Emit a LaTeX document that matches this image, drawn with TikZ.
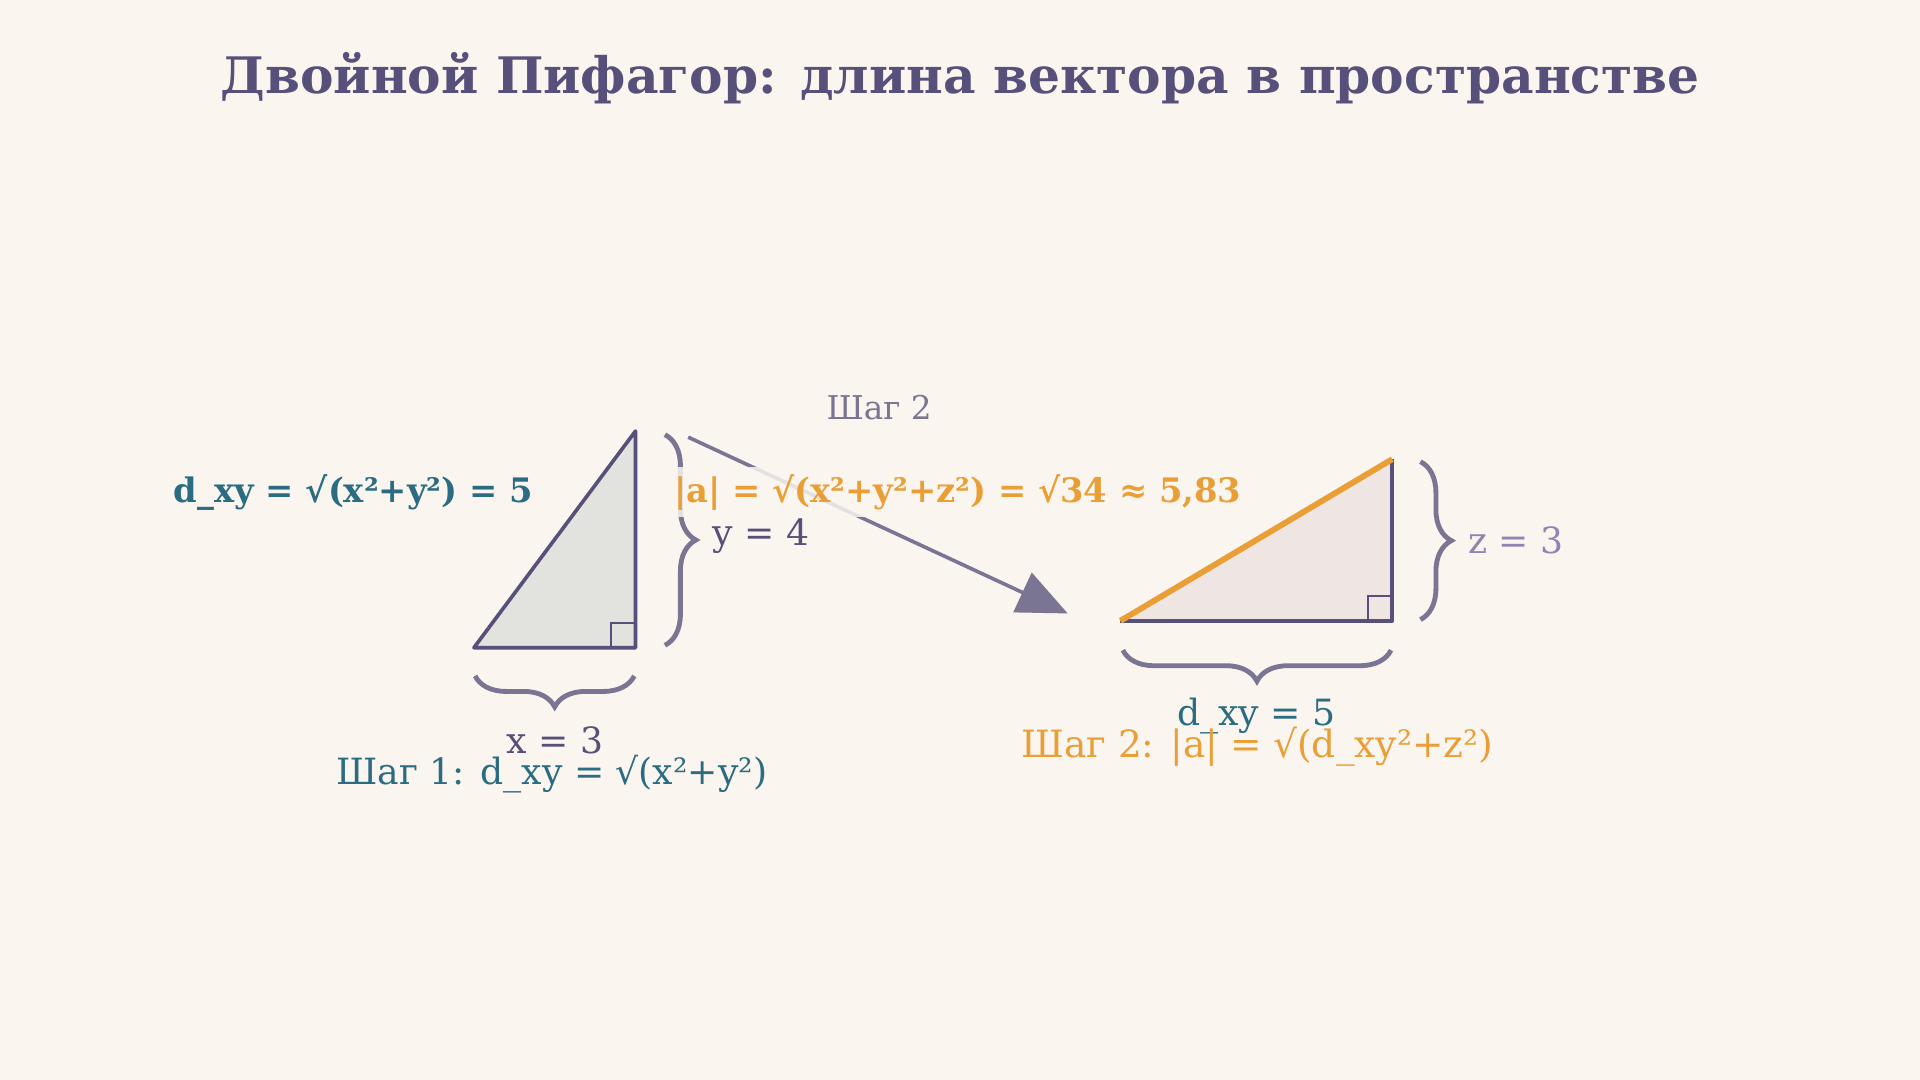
\documentclass[tikz,border=0pt]{standalone}
\usepackage{fontspec}
\setmainfont{DejaVu Serif}
\usetikzlibrary{arrows.meta,decorations.pathreplacing,positioning}
\definecolor{bgcol}{HTML}{FAF5EF}
\definecolor{ink}{HTML}{56507A}
\definecolor{tealc}{HTML}{2B6C82}
\definecolor{amber}{HTML}{E99F36}
\definecolor{mauve}{HTML}{7A7592}
\definecolor{lilac}{HTML}{9283B5}
\definecolor{triA}{HTML}{E2E3DF}
\definecolor{triB}{HTML}{EFE6E3}
\tikzstyle{bracestyle}=[draw=mauve,line width=2.8pt,decorate,decoration={brace,amplitude=18pt}]

\begin{document}
\begin{tikzpicture}[x=0.025cm,y=-0.025cm]
	\tikzstyle{every node}=[inner sep=0pt,outer sep=0pt]
	\tikzstyle{tri}=[draw=ink,line width=2.1pt,line join=round]
	\tikzstyle{corner}=[draw=ink,line width=1.2pt]
	\tikzstyle{label}=[font=\fontsize{21}{25}\selectfont]
	\tikzstyle{boldlabel}=[font=\bfseries\fontsize{19.6}{24}\selectfont]
	\tikzstyle{arrowline}=[draw=mauve,line width=2.1pt,-{Triangle[length=29pt,width=25pt]}]

	\fill[bgcol] (0,0) rectangle (1568,882);
	\useasboundingbox (0,0) rectangle (1568,882);

	\node[font=\bfseries\fontsize{29.2}{34}\selectfont,text=ink] (title) at (784,64) {Двойной Пифагор: длина вектора в пространстве};

	% first triangle: x and y
	\coordinate (p1) at (387,529);
	\coordinate (q1) at (519,529);
	\coordinate (r1) at (519,352);
	\filldraw[tri,fill=triA] (p1) -- (q1) -- (r1) -- cycle;
	\draw[corner] (q1) ++(-20,0) -- ++(0,-20) -- ++(20,0);

	\coordinate (b1s) at (543,355);
	\coordinate (b1e) at (543,527);
	\draw[bracestyle] (b1s) -- (b1e);
	\coordinate (b2s) at (518,552);
	\coordinate (b2e) at (388,552);
	\draw[bracestyle] (b2s) -- (b2e);

	\node[label,text=ink,anchor=west] (ylab) at (582,438) {y = 4};
	\node[label,text=ink] (xlab) at (453,605) {x = 3};
	\node[label,text=tealc,anchor=west] (step1) at (275,632) {Шаг 1: d\_xy = √(x²+y²)};
	\node[boldlabel,text=tealc,anchor=west] (dxy) at (142,402) {d\_xy = √(x²+y²) = 5};

	% arrow between the steps
	\coordinate (arrS) at (562,357);
	\coordinate (arrE) at (872,501);
	\draw[arrowline] (arrS) -- (arrE);
	\node[font=\fontsize{19}{23}\selectfont,text=mauve] (step2) at (718,333) {Шаг 2};
	\node[boldlabel,text=amber,anchor=west,fill=bgcol,fill opacity=.85,text opacity=1,inner sep=4pt] (alen) at (545,402) {|a| = √(x²+y²+z²) = √34 ≈ 5,83};

	% second triangle: d_xy and z
	\coordinate (p2) at (915,507);
	\coordinate (q2) at (1137,507);
	\coordinate (r2) at (1137,375);
	\filldraw[tri,fill=triB] (p2) -- (q2) -- (r2);
	\draw[corner] (q2) ++(-20,0) -- ++(0,-20) -- ++(20,0);
	\draw[draw=amber,line width=3.4pt] (p2) -- (r2);

	\coordinate (b3s) at (1160,377);
	\coordinate (b3e) at (1160,506);
	\draw[bracestyle] (b3s) -- (b3e);
	\coordinate (b4s) at (1136,531);
	\coordinate (b4e) at (917,531);
	\draw[bracestyle] (b4s) -- (b4e);

	\node[label,text=lilac,anchor=west] (zlab) at (1199,441) {z = 3};
	\node[label,text=tealc] (dlab) at (1026,585) {d\_xy = 5};
	\node[label,font=\fontsize{21.8}{26}\selectfont,text=amber,anchor=west] (step2f) at (834,610) {Шаг 2: |a| = √(d\_xy²+z²)};
\end{tikzpicture}
\end{document}
